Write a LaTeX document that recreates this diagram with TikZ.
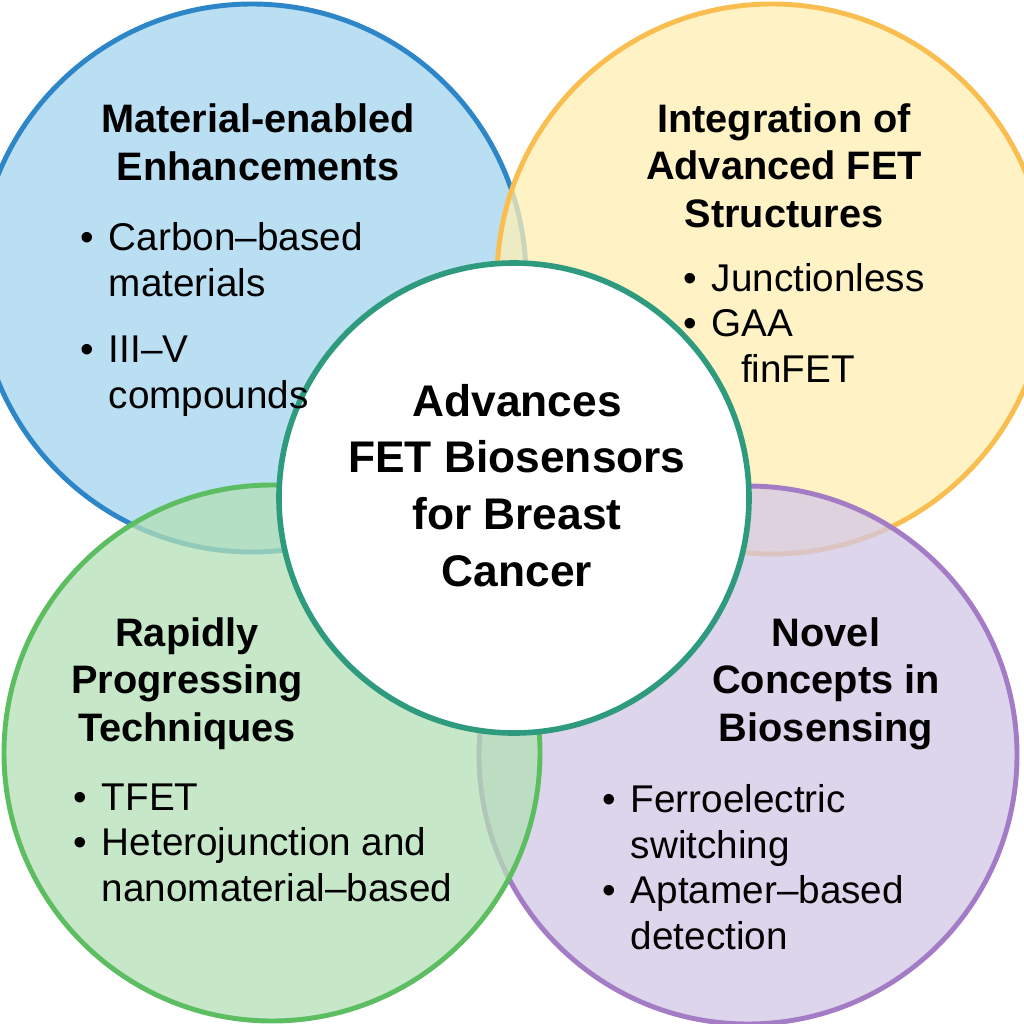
\documentclass[tikz,border=0pt]{standalone}
\usepackage{fontspec}
\setmainfont{Liberation Sans}
\definecolor{BlueFill}{RGB}{164,211,238}
\definecolor{BlueLine}{RGB}{44,134,200}
\definecolor{YellowFill}{RGB}{255,240,180}
\definecolor{YellowLine}{RGB}{250,190,80}
\definecolor{GreenFill}{RGB}{179,224,182}
\definecolor{GreenLine}{RGB}{92,190,96}
\definecolor{PurpleFill}{RGB}{210,199,230}
\definecolor{PurpleLine}{RGB}{164,124,197}
\definecolor{TealLine}{RGB}{46,154,126}
\tikzset{
  area/.style={line width=1.4pt,fill opacity=0.75},
  hub/.style={draw=TealLine,line width=1.6pt,fill=white},
  heading/.style={font=\fontsize{11.3}{13.4}\selectfont\bfseries,
    align=center,anchor=base,inner sep=0pt},
  hubtext/.style={font=\fontsize{12.6}{16.1}\selectfont\bfseries,
    align=center,anchor=base,inner sep=0pt},
  points/.style={font=\fontsize{11}{12.9}\selectfont,
    align=left,anchor=base west,inner sep=0pt}
}
\newcommand{\bitem}{\makebox[8pt][l]{\textbullet}}
\newcommand{\bcont}{\hspace*{8pt}}

\begin{document}
\begin{tikzpicture}[x=0.01cm,y=-0.01cm]
  \useasboundingbox (0,0) rectangle (1024,1024);
  \clip (0,0) rectangle (1024,1024);
  \fill[white] (0,0) rectangle (1024,1024);
  % the four topic circles
  \draw[area,draw=BlueLine,fill=BlueFill] (252,278) circle[radius=274];
  \draw[area,draw=YellowLine,fill=YellowFill] (772,279) circle[radius=275];
  \draw[area,draw=PurpleLine,fill=PurpleFill] (748,755) circle[radius=269];
  \draw[area,draw=GreenLine,fill=GreenFill] (272,753) circle[radius=268];
  \draw[hub] (514,498) circle[radius=235];

  % texts sit on the baseline of their last line
  \node[heading] (blueHead) at (258,180) {Material-enabled\\Enhancements};
  \node[points] (blueList) at (80,408)
    {\bitem Carbon–based\\\bcont materials\\[6pt]\bitem III–V\\\bcont compounds};

  \node[heading] (yellowHead) at (784,227) {Integration of\\Advanced FET\\Structures};
  \node[points] (yellowList) at (683,382)
    {\bitem Junctionless\\\bitem GAA\\\bcont\hspace*{8.3pt}finFET};

  \node[heading] (greenHead) at (187,741) {Rapidly\\Progressing\\Techniques};
  \node[points] (greenList) at (73,901)
    {\bitem TFET\\\bitem Heterojunction and\\\bcont nanomaterial–based};

  \node[heading] (purpleHead) at (826,741) {Novel\\Concepts in\\Biosensing};
  \node[points] (purpleList) at (602,949)
    {\bitem Ferroelectric\\\bcont switching\\\bitem Aptamer–based\\\bcont detection};

  % centre
  \node[hubtext] (hubHead) at (517,586) {Advances\\FET Biosensors\\for Breast\\Cancer};
\end{tikzpicture}
\end{document}
